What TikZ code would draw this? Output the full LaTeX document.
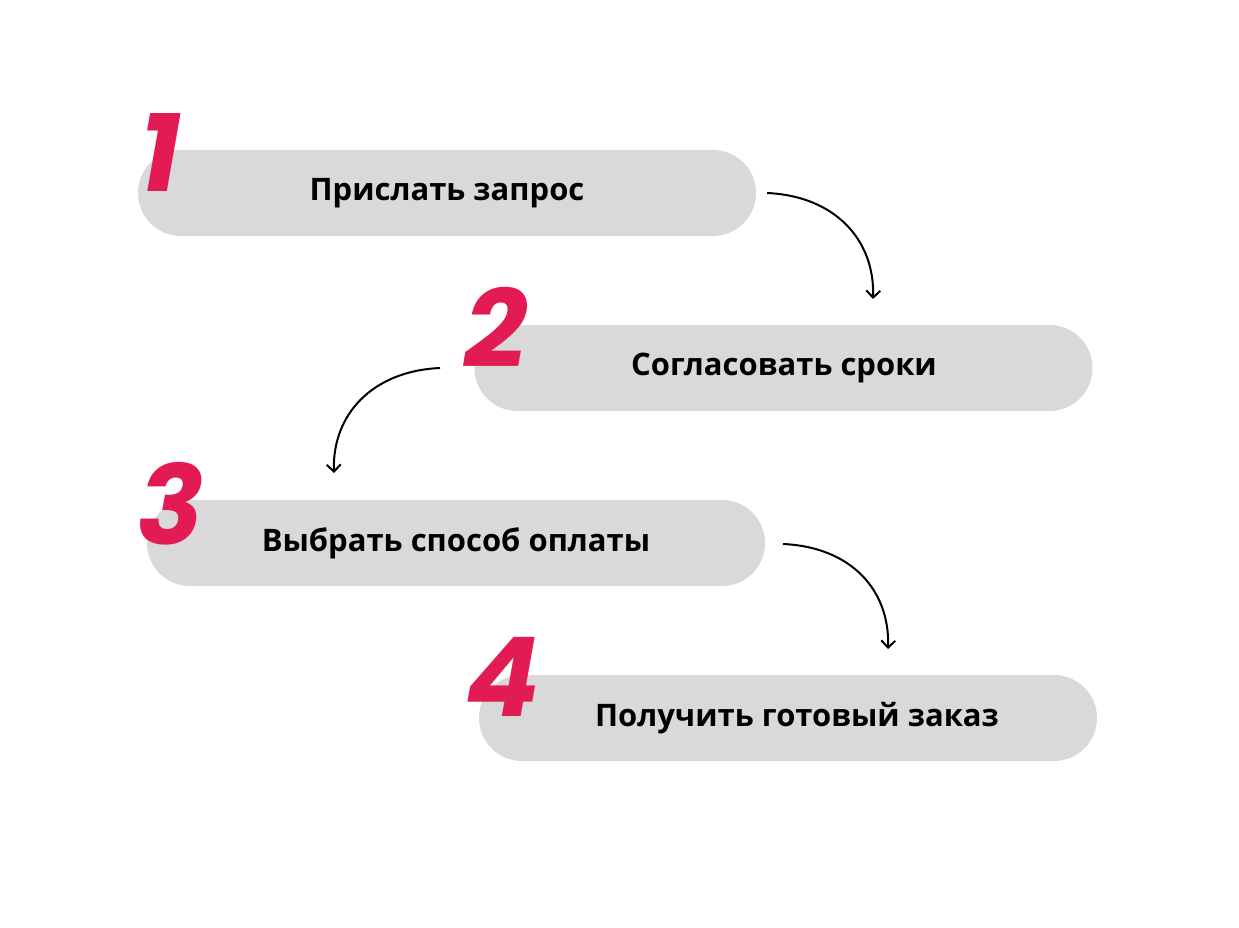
\documentclass[tikz,border=0pt]{standalone}
\usepackage{fontspec}
\setmainfont{Open Sans}
\newfontfamily\numfont{Poppins}
\usetikzlibrary{arrows.meta}
\definecolor{pill}{HTML}{D9D9D9}
\definecolor{mag}{HTML}{E31B54}
\begin{document}
\begin{tikzpicture}[x=1pt,y=-1pt,
 pillst/.style={fill=pill,draw=none,rounded corners=43pt,minimum width=618pt,minimum height=86pt,inner sep=0pt},
 txt/.style={font=\fontsize{31}{36}\selectfont\bfseries,text=black},
 num/.style={font=\numfont\fontsize{110}{110}\selectfont\bfseries\itshape,text=mag,inner sep=0pt},
 arr/.style={line width=2pt,-{Straight Barb[length=7pt,width=14pt]}}]
\useasboundingbox (0,0) rectangle (1239,928);
\node[pillst] (p1) at (447,193) {};
\node[pillst] (p2) at (783.5,368) {};
\node[pillst] (p3) at (456,543) {};
\node[pillst] (p4) at (788,718) {};
\node[txt] (t1) at (447,193) {Прислать запрос};
\node[txt] (t2) at (784,368) {Согласовать сроки};
\node[txt] (t3) at (456,543) {Выбрать способ оплаты};
\node[txt] (t4) at (797,718) {Получить готовый заказ};
\node[num] (n1) at (160,153) {1};
\node[num] (n2) at (496,327) {2};
\node[num] (n3) at (171,504) {3};
\node[num] (n4) at (503,677) {4};
\coordinate (a1s) at (767,193); \coordinate (a1e) at (873,299);
\coordinate (a2s) at (440,368); \coordinate (a2e) at (334,473);
\coordinate (a3s) at (783,544); \coordinate (a3e) at (888,649);
\draw[arr] (a1s) .. controls (835,196) and (875,240) .. (a1e);
\draw[arr] (a2s) .. controls (372,371) and (332,415) .. (a2e);
\draw[arr] (a3s) .. controls (851,547) and (890,590) .. (a3e);
\end{tikzpicture}
\end{document}
